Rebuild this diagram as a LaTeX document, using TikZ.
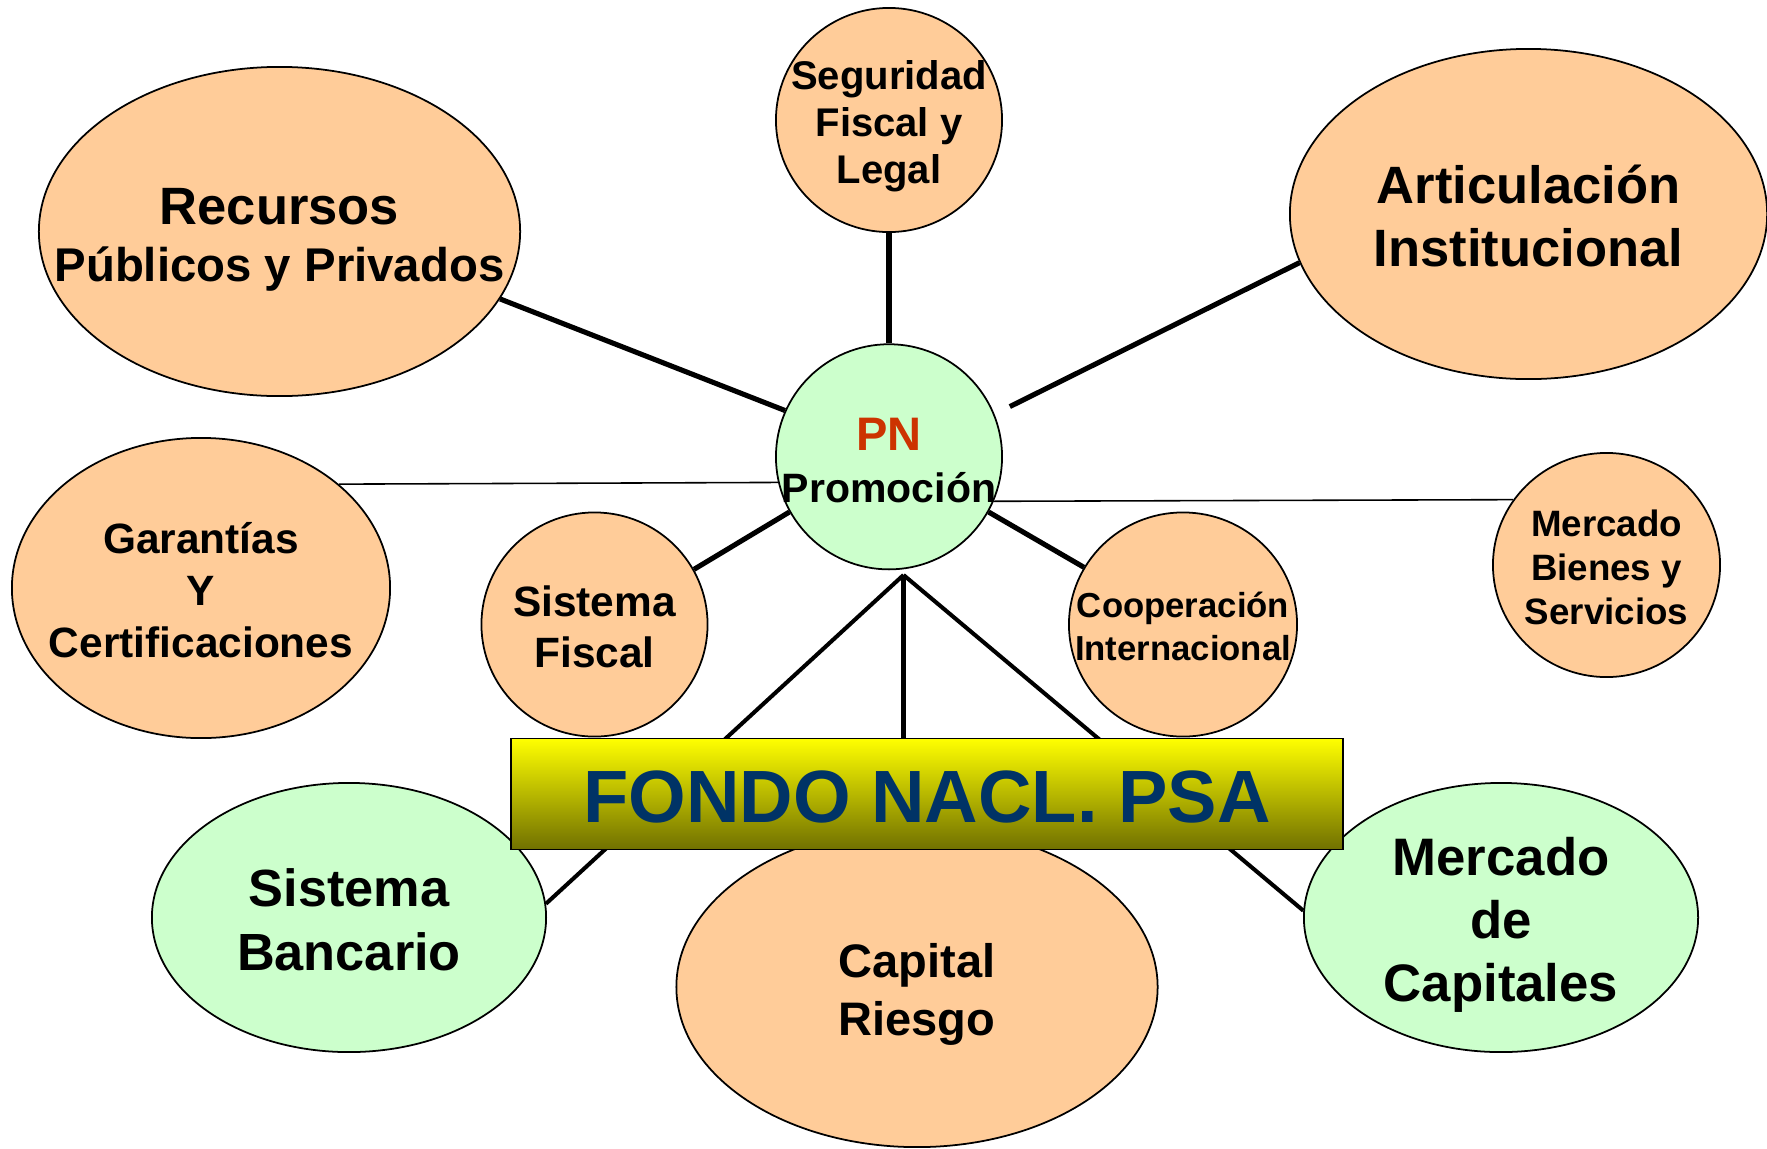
\documentclass[tikz,border=0pt]{standalone}
\usepackage{fontspec}
\setmainfont{Liberation Sans}
\usetikzlibrary{shapes.geometric,backgrounds}
\definecolor{peachc}{HTML}{FFCC99}
\definecolor{greenc}{HTML}{CCFFCC}
\definecolor{pnred}{HTML}{CC3300}
\definecolor{navyc}{HTML}{003366}
\definecolor{olivec}{RGB}{112,112,0}
\newcommand{\myfs}[2]{\fontsize{#1pt}{#2pt}\selectfont}
\newcommand{\mystrut}{\rule[-0.212em]{0pt}{1.117em}}
\begin{document}
\begin{tikzpicture}[x=0.01cm,y=-0.01cm,
  bub/.style={ellipse, draw=black, line width=0.5pt, inner sep=0pt},
  peachbub/.style={bub, fill=peachc},
  greenbub/.style={bub, fill=greenc},
  txt/.style={inner sep=0pt, align=center, yshift=-0.028cm},
  thickline/.style={line width=1.45pt},
  midline/.style={line width=1.15pt},
  thinline/.style={line width=0.45pt}]
\useasboundingbox (0,0) rectangle (1767,1148);
% bubbles
\node[peachbub, minimum width=4.81cm, minimum height=3.29cm] (rec) at (279.5,231.5) {};
\node[peachbub, minimum width=2.26cm, minimum height=2.24cm] (seg) at (889,120) {};
\node[peachbub, minimum width=4.77cm, minimum height=3.30cm] (art) at (1528.5,214) {};
\node[greenbub, minimum width=2.26cm, minimum height=2.25cm] (pn) at (889,456.8) {};
\node[peachbub, minimum width=3.78cm, minimum height=3.00cm] (gar) at (201,588) {};
\node[peachbub, minimum width=2.26cm, minimum height=2.24cm] (sf) at (594.5,624.5) {};
\node[peachbub, minimum width=2.28cm, minimum height=2.24cm] (coop) at (1183,624.5) {};
\node[peachbub, minimum width=2.27cm, minimum height=2.24cm] (mbs) at (1606.5,565) {};
\node[greenbub, minimum width=3.94cm, minimum height=2.69cm] (ban) at (349,917.5) {};
\node[greenbub, minimum width=3.94cm, minimum height=2.69cm] (mcap) at (1501,917.5) {};
\node[peachbub, minimum width=4.81cm, minimum height=3.20cm] (cap) at (917,987) {};
% texts
\node[txt, font=\bfseries\myfs{14.94}{16.22}] (rect) at (rec) {\mystrut Recursos\\{\myfs{13.46}{16.22}\mystrut Públicos y Privados}};
\node[txt, font=\bfseries\myfs{11.38}{13.37}] (segt) at (seg) {\mystrut Seguridad\\\mystrut Fiscal y\\\mystrut Legal};
\node[txt, font=\bfseries\myfs{14.94}{17.93}] (artt) at (art) {\mystrut Articulación\\\mystrut Institucional};
\node[txt, font=\bfseries\myfs{11.67}{14.6}] (pnt) at (pn) {{\color{pnred}\myfs{13.37}{14.6}\mystrut PN}\\\mystrut Promoción};
\node[txt, font=\bfseries\myfs{12.06}{14.65}] (gart) at (gar) {\mystrut Garantías\\\mystrut Y\\\mystrut Certificaciones};
\node[txt, font=\bfseries\myfs{12.06}{14.51}] (sft) at (sf) {\mystrut Sistema\\\mystrut Fiscal};
\node[txt, font=\bfseries\myfs{9.87}{12.23}] (coopt) at (coop) {\mystrut Cooperación\\\mystrut Internacional};
\node[txt, font=\bfseries\myfs{10.44}{12.52}] (mbst) at (mbs) {\mystrut Mercado\\\mystrut Bienes y\\\mystrut Servicios};
\node[txt, font=\bfseries\myfs{14.88}{18.12}] (bant) at (ban) {\mystrut Sistema\\\mystrut Bancario};
\node[txt, font=\bfseries\myfs{15.0}{17.93}] (mcapt) at (mcap) {\mystrut Mercado\\\mystrut de\\\mystrut Capitales};
\node[txt, font=\bfseries\myfs{13.37}{16.5}] (capt) at (cap) {\mystrut Capital\\\mystrut Riesgo};
% central box
\node[draw=black, line width=0.5pt, top color=yellow, bottom color=olivec, minimum width=8.32cm, minimum height=1.11cm, inner sep=0pt] (fondo) at (927,794) {};
\node[txt, font=\bfseries\myfs{21.06}{24}, text=navyc] (fondot) at (fondo) {\mystrut FONDO NACL. PSA};
% connectors
\begin{scope}[on background layer]
\draw[thickline] (rec.-17) -- (pn.156);
\draw[thickline] (seg.south) -- (pn.north);
\draw[thickline, shorten >=0.17cm] (art.192) -- (pn.22);
\draw[thinline] (gar.37.4) -- (pn.193.9);
\draw[thinline] (pn.-23) -- (mbs.145.5);
\draw[thickline] (sf.29.4) -- (pn.209.3);
\draw[thickline] (pn.-29.6) -- (coop.150.3);
\coordinate (apex) at (903.5,575);
\draw[midline] (apex) -- (ban.4.8);
\draw[midline] (apex) -- (apex |- cap.north);
\draw[midline] (apex) -- (mcap.178.5);
\end{scope}
\end{tikzpicture}
\end{document}
